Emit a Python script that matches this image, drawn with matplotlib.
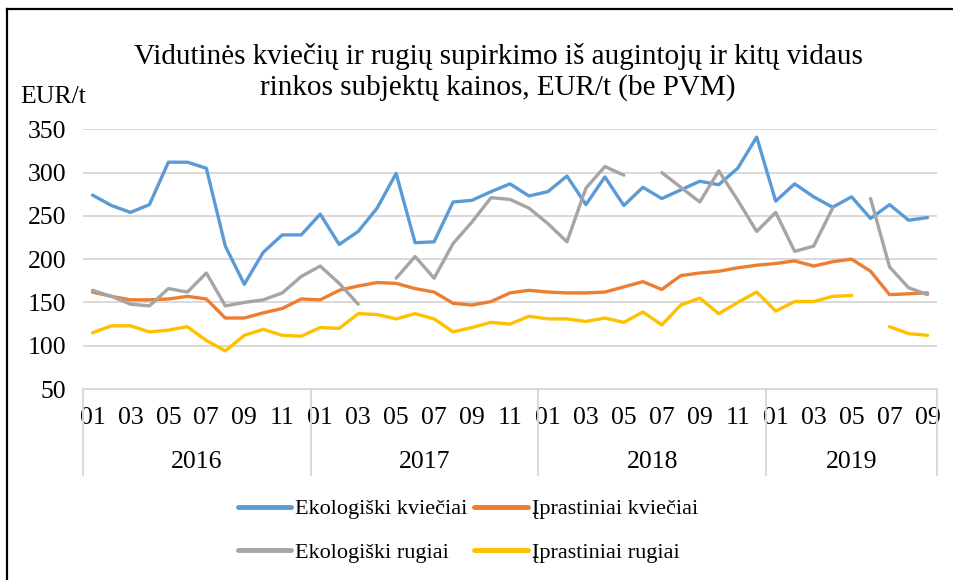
import numpy as np
import matplotlib
matplotlib.use("Agg")
import matplotlib.pyplot as plt
from matplotlib.lines import Line2D
import matplotlib.transforms as mtransforms

plt.rcParams['font.family'] = ['Liberation Serif', 'DejaVu Serif']

years = ["2016", "2017", "2018", "2019"]
months_per_year = [12, 12, 12, 9]
month_labels = ["01", "02", "03", "04", "05", "06", "07", "08", "09", "10", "11", "12"]

eko_kvieciai = [274, 262, 254, 263, 312, 312, 305, 215, 171, 208, 228, 228,
                252, 217, 232, 259, 299, 219, 220, 266, 268, 278, 287, 273,
                278, 296, 263, 295, 262, 283, 270, 280, 290, 286, 305, 341,
                267, 287, 272, 260, 272, 247, 263, 245, 248]
ipr_kvieciai = [162, 157, 153, 153, 154, 157, 154, 132, 132, 138, 143, 154,
                153, 164, 169, 173, 172, 166, 162, 149, 147, 151, 161, 164,
                162, 161, 161, 162, 168, 174, 165, 181, 184, 186, 190, 193,
                195, 198, 192, 197, 200, 186, 159, 160, 161]
eko_rugiai = [164, 157, 148, 146, 166, 162, 184, 146, 150, 153, 161, 180,
              192, 172, 148, None, 178, 203, 178, 218, 243, 271, 269, 259,
              241, 220, 282, 307, 297, None, 300, 283, 266, 302, 268, 232,
              254, 209, 215, 259, None, 270, 191, 167, 159]
ipr_rugiai = [115, 123, 123, 116, 118, 122, 106, 94, 112, 119, 112, 111,
              121, 120, 137, 136, 131, 137, 131, 116, 121, 127, 125, 134,
              131, 131, 128, 132, 127, 139, 124, 147, 155, 137, 150, 162,
              140, 151, 151, 157, 158, None, 122, 114, 112]

series = [
    ("Ekologiški kviečiai", eko_kvieciai, "#5B9BD5"),
    ("Įprastiniai kviečiai", ipr_kvieciai, "#ED7D31"),
    ("Ekologiški rugiai", eko_rugiai, "#A5A5A5"),
    ("Įprastiniai rugiai", ipr_rugiai, "#FFC000"),
]

W, H = 954, 580
fig = plt.figure(figsize=(W / 100, H / 100), dpi=100)

ax_l, ax_r, ax_t, ax_b = 83, 937, 129.3, 389
ax = fig.add_axes([ax_l / W, 1 - ax_b / H, (ax_r - ax_l) / W, (ax_b - ax_t) / H])

AXFS = 18.5
n = sum(months_per_year)
x = np.arange(n)
handles = {}
for name, vals, col in series:
    y = np.array([np.nan if v is None else v for v in vals], dtype=float)
    ln, = ax.plot(x, y, color=col, lw=2.4, solid_capstyle='round', solid_joinstyle='round', label=name, zorder=3)
    handles[name] = ln

ax.set_xlim(-0.5, n - 0.5)
ax.set_ylim(50, 350)
ax.set_yticks(np.arange(50, 351, 50))
ax.yaxis.grid(True, color="#D9D9D9", lw=1.4)
ax.set_axisbelow(True)
for s in ax.spines.values():
    s.set_visible(False)
ax.tick_params(axis='y', length=0, pad=12, labelsize=AXFS)

# month tick labels (every second month)
ticks, labels = [], []
i0 = 0
for cnt in months_per_year:
    for m in range(0, cnt, 2):
        ticks.append(i0 + m)
        labels.append(month_labels[m])
    i0 += cnt
ax.set_xticks(ticks)
ax.set_xticklabels(labels)
ax.tick_params(axis='x', length=0, pad=13, labelsize=AXFS)

# category axis lines and year labels
trans = mtransforms.blended_transform_factory(ax.transData, ax.transAxes)
axh = ax_b - ax_t
depth = -(475 - ax_b) / axh
ax.plot([-0.5, n - 0.5], [0, 0], transform=trans, color="#D9D9D9", lw=1.4, clip_on=False, zorder=1)
edges = [-0.5]
i0 = 0
for cnt in months_per_year:
    i0 += cnt
    edges.append(i0 - 0.5)
for e in edges:
    ax.plot([e, e], [0, depth], transform=trans, color="#D9D9D9", lw=1.4, clip_on=False)
year_y = -(462 - ax_b) / axh
for k, yr in enumerate(years):
    cx = (edges[k] + edges[k + 1]) / 2
    ax.text(cx, year_y, yr, transform=trans, ha='center', va='center', fontsize=AXFS)

# title and unit
fig.text(498 / W, 1 - 72 / H, "Vidutinės kviečių ir rugių supirkimo iš augintojų ir kitų vidaus\nrinkos subjektų kainos, EUR/t (be PVM)",
         ha='center', va='center', fontsize=21, linespacing=1.18)
fig.text(20 / W, 1 - 97 / H, "EUR/t", ha='left', va='center', fontsize=AXFS)

# legend (row-wise: blue, orange / gray, yellow)
order = ["Ekologiški kviečiai", "Ekologiški rugiai", "Įprastiniai kviečiai", "Įprastiniai rugiai"]
leg = fig.legend([handles[o] for o in order], order, ncol=2, frameon=False,
                 loc='center', bbox_to_anchor=(468 / W, 1 - 531 / H), fontsize=16,
                 handlelength=2.4, handletextpad=0.2, columnspacing=0.3, labelspacing=1.05)
for lh in leg.get_lines():
    lh.set_linewidth(3.5)

# outer frame (left and top)
fig.add_artist(Line2D([7 / W, 7 / W], [0, 1 - 9 / H], transform=fig.transFigure, color='black', lw=1.6))
fig.add_artist(Line2D([7 / W, 1], [1 - 9 / H, 1 - 9 / H], transform=fig.transFigure, color='black', lw=1.6))

fig.savefig("out.png", dpi=100)
